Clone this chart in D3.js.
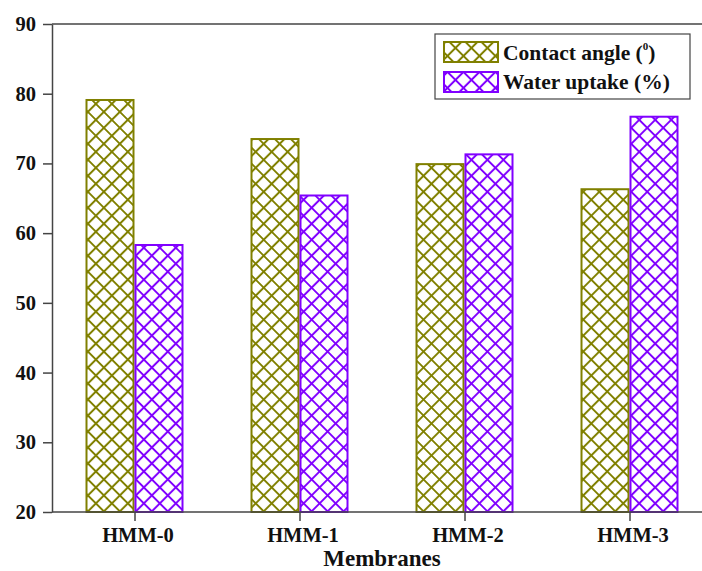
<!DOCTYPE html>
<html>
<head>
<meta charset="utf-8">
<script src="https://cdn.jsdelivr.net/npm/d3@7"></script>
<style>
  html, body { margin: 0; padding: 0; background: #fff; }
  svg { display: block; }
  text { font-family: "Liberation Serif", "Times New Roman", serif; font-weight: bold; fill: #111; }
</style>
</head>
<body>
<svg id="chart" width="702" height="571"></svg>
<script>
// ---- data ----
const categories = ["HMM-0", "HMM-1", "HMM-2", "HMM-3"];
const seriesNames = ["Contact angle", "Water uptake (%)"];
const contactAngle = [79.1, 73.5, 69.9, 66.3];
const waterUptake = [58.3, 65.4, 71.3, 76.7];
const yTicks = [20, 30, 40, 50, 60, 70, 80, 90];
const xTitle = "Membranes";

const colors = ["#808000", "#8000FF"];
const seriesValues = [contactAngle, waterUptake];

(function () {
const svg = d3.select("#chart");
const W = 702;
const mLeft = 52, mRight = 712, mTop = 24, mBottom = 512;

// patterns
const defs = svg.append("defs");
colors.forEach((c, i) => {
  const w = 11.3;
  const p = defs.append("pattern")
    .attr("id", "hatch" + i)
    .attr("patternUnits", "userSpaceOnUse")
    .attr("width", w).attr("height", w)
    .attr("patternTransform", "rotate(45)");
  p.append("rect").attr("width", w).attr("height", w).attr("fill", "#fff");
  p.append("path")
    .attr("d", `M0,${w/2} H${w} M${w/2},0 V${w}`)
    .attr("stroke", c).attr("stroke-width", 2).attr("fill", "none");
});

const x0 = d3.scalePoint().domain(categories).range([mLeft, mRight]).padding(0.5);
const x1 = d3.scaleBand().domain(seriesNames).range([-49, 49]).padding(0);
const y = d3.scaleLinear().domain([20, 90]).range([mBottom, mTop]);

// bars
const g = svg.append("g");
categories.forEach((cat, ci) => {
  seriesNames.forEach((s, si) => {
    const v = seriesValues[si][ci];
    g.append("rect")
      .attr("x", x0(cat) + x1(s) + 1)
      .attr("y", y(v))
      .attr("width", x1.bandwidth() - 2)
      .attr("height", y(20) - y(v))
      .attr("fill", `url(#hatch${si})`)
      .attr("stroke", colors[si])
      .attr("stroke-width", 2);
  });
});

// top frame line
svg.append("line")
  .attr("x1", mLeft).attr("x2", W).attr("y1", mTop).attr("y2", mTop)
  .attr("stroke", "#444").attr("stroke-width", 1.5);

// left axis
const yAxis = svg.append("g")
  .attr("transform", `translate(${mLeft},0)`)
  .call(d3.axisLeft(y).tickValues(yTicks).tickSize(9).tickPadding(7).tickSizeOuter(0));
yAxis.select(".domain").attr("stroke", "#444").attr("stroke-width", 1.5);
yAxis.selectAll(".tick line").attr("stroke", "#444").attr("stroke-width", 1.5);
yAxis.selectAll("text").style("font-size", "20.5px").attr("fill", "#111");

// bottom axis
const xAxis = svg.append("g")
  .attr("transform", `translate(0,${mBottom})`)
  .call(d3.axisBottom(x0).tickSize(9).tickPadding(6).tickSizeOuter(0));
xAxis.select(".domain").attr("d", `M${mLeft},0H${W}`).attr("stroke", "#444").attr("stroke-width", 1.5);
xAxis.selectAll(".tick line").attr("stroke", "#444").attr("stroke-width", 1.5);
xAxis.selectAll("text").style("font-size", "20.5px").attr("fill", "#111").attr("dx", 3);

svg.append("text")
  .attr("x", (mLeft + mRight) / 2).attr("y", 566)
  .attr("text-anchor", "middle")
  .style("font-size", "23px")
  .text(xTitle);

// legend
const lg = svg.append("g");
lg.append("rect")
  .attr("x", 435).attr("y", 34).attr("width", 255).attr("height", 65)
  .attr("fill", "#fff").attr("stroke", "#444").attr("stroke-width", 1.2);
const legendRows = [42, 72];
seriesNames.forEach((s, i) => {
  lg.append("rect")
    .attr("x", 444).attr("y", legendRows[i])
    .attr("width", 54).attr("height", 20)
    .attr("fill", `url(#hatch${i})`)
    .attr("stroke", colors[i]).attr("stroke-width", 2);
});
const t1 = lg.append("text").attr("x", 503).attr("y", 60).style("font-size", "21.5px");
t1.append("tspan").text("Contact angle (");
t1.append("tspan").attr("dy", -10).style("font-size", "11px").text("0");
t1.append("tspan").attr("dy", 10).text(")");
lg.append("text").attr("x", 503).attr("y", 89).style("font-size", "21.5px").text(seriesNames[1]);
})();
</script>
</body>
</html>
